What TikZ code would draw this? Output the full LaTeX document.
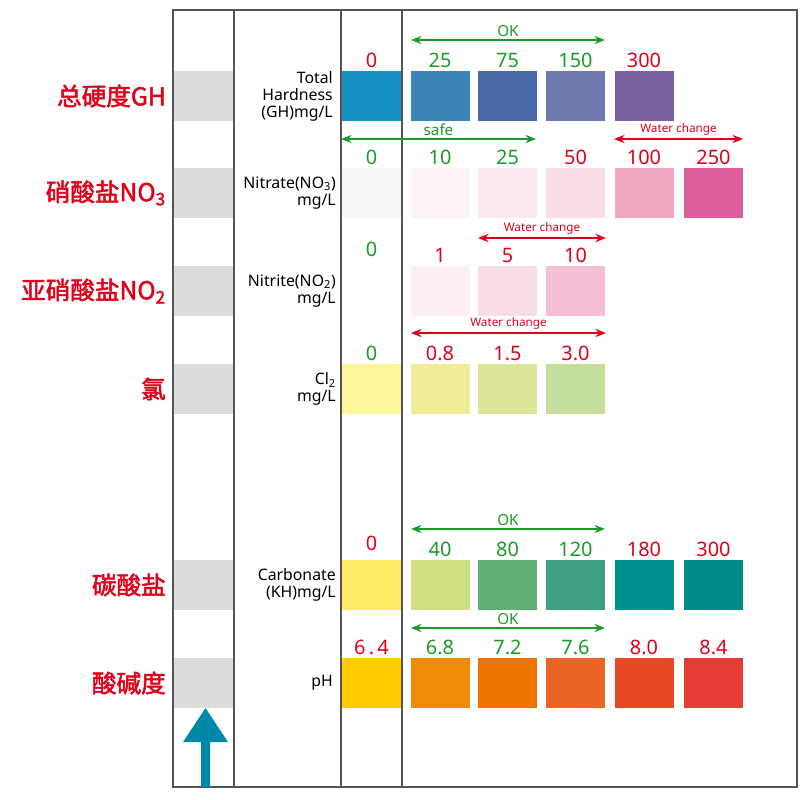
\documentclass[tikz,border=0pt]{standalone}
\usepackage{fontspec}
\setmainfont{Noto Sans}
\newfontfamily\cjk{Noto Sans CJK SC}[AutoFakeBold=2]
\usetikzlibrary{arrows.meta,positioning}
\definecolor{okgreen}{HTML}{1A9A2A}
\definecolor{warnred}{HTML}{E0001A}
\definecolor{framegray}{HTML}{555555}
\definecolor{bandgray}{HTML}{DCDCDC}
\definecolor{arrowteal}{HTML}{0089A6}
\tikzset{
  swatch/.style={rectangle, inner sep=0, minimum width=1.77cm, minimum height=1.5cm},
  hex/.code={\definecolor{swcol}{HTML}{#1}\pgfkeysalso{fill=swcol}},
  band/.style={fill=bandgray, draw=none, rectangle, inner sep=0, minimum width=1.8cm, minimum height=1.5cm},
  val/.style={anchor=base, inner sep=0, font=\bfseries\fontsize{17}{17}\selectfont},
  cnlabel/.style={anchor=east, inner sep=0, text=warnred, font=\cjk\bfseries\fontsize{21}{21}\selectfont},
  enlabel/.style={anchor=east, inner sep=0, align=right, font=\bfseries\fontsize{13.5}{14.5}\selectfont},
  limitarrow/.style={line width=2pt, {Stealth[length=9pt,width=7pt]}-{Stealth[length=9pt,width=7pt]}},
  rangetext/.style={anchor=base, inner sep=0},
}
\begin{document}
\begin{tikzpicture}[x=0.03cm, y=-0.03cm]
\useasboundingbox (0,0) rectangle (800,800);
% gray bands and row labels
\foreach \r/\top/\cn in {gh/71/总硬度GH, no3/168/硝酸盐NO\textsubscript{3}, no2/266/亚硝酸盐NO\textsubscript{2}, cl/364/氯, kh/560/碳酸盐, ph/658/酸碱度}{
  \node[band] (band-\r) at (203.5,\top+25) {};
  \node[cnlabel] (cn-\r) at (166,\top+25) {\cn};
}
\node[enlabel] (en-gh) at (333,96) {Total\\Hardness\\(GH)mg/L};
\node[enlabel] (en-no3) at (336,193) {Nitrate(NO\textsubscript{3})\\mg/L};
\node[enlabel] (en-no2) at (336,291) {Nitrite(NO\textsubscript{2})\\mg/L};
\node[enlabel] (en-cl) at (336,389) {Cl\textsubscript{2}\\mg/L};
\node[enlabel] (en-kh) at (336,585) {Carbonate\\(KH)mg/L};
\node[enlabel] (en-ph) at (333,683) {pH};
% total hardness
\foreach \i/\x/\c/\v/\t in {0/371.5/1590C4/0/warnred, 1/440/3A84B8/25/okgreen, 2/507.5/4A69A6/75/okgreen, 3/575.5/6F78AC/150/okgreen, 4/644/7A62A0/300/warnred}{
  \node[swatch, hex=\c] (gh\i) at (\x,96) {};
  \node[val, text=\t] (ghv\i) at (\x,67) {\v};
}
% nitrate
\foreach \i/\x/\c/\v/\t in {0/371.5/F7F7F7/0/okgreen, 1/440/FDF3F5/10/okgreen, 2/507.5/FCE9EF/25/okgreen, 3/575.5/FADDE6/50/warnred, 4/644/F0A7C2/100/warnred, 5/713.5/DC5E9C/250/warnred}{
  \node[swatch, hex=\c] (no3\i) at (\x,193) {};
  \node[val, text=\t] (no3v\i) at (\x,164) {\v};
}
% nitrite
\node[val, text=okgreen] (no2v0) at (371.5,256) {0};
\foreach \i/\x/\c/\v in {1/440/FCEEF3/1, 2/507.5/F9DDE6/5, 3/575.5/F4BFD6/10}{
  \node[swatch, hex=\c] (no2\i) at (\x,291) {};
  \node[val, text=warnred] (no2v\i) at (\x,262) {\v};
}
% chlorine
\foreach \i/\x/\c/\v/\t in {0/371.5/FFF59A/0/okgreen, 1/440/F0EB98/0.8/warnred, 2/507.5/DDE598/1.5/warnred, 3/575.5/C4DF9C/3.0/warnred}{
  \node[swatch, hex=\c] (cl\i) at (\x,389) {};
  \node[val, text=\t] (clv\i) at (\x,360) {\v};
}
% carbonate
\foreach \i/\x/\c/\v/\t in {1/440/D0DF80/40/okgreen, 2/507.5/61AF74/80/okgreen, 3/575.5/3F9F84/120/okgreen, 4/644/009090/180/warnred, 5/713.5/008A88/300/warnred}{
  \node[swatch, hex=\c] (kh\i) at (\x,585) {};
  \node[val, text=\t] (khv\i) at (\x,556) {\v};
}
\node[swatch, hex=FFE966] (kh0) at (371.5,585) {};
\node[val, text=warnred] (khv0) at (371.5,550) {0};
% ph
\foreach \i/\x/\c/\v/\t in {0/371.5/FFCC00/6\,.\,4/warnred, 1/440/F08C07/6.8/okgreen, 2/507.5/EE7400/7.2/okgreen, 3/575.5/EA6426/7.6/okgreen, 4/644/E94824/8.0/warnred, 5/713.5/E53C35/8.4/warnred}{
  \node[swatch, hex=\c] (ph\i) at (\x,683) {};
  \node[val, text=\t] (phv\i) at (\x,654) {\v};
}
% frame
\draw[framegray, line width=1.7pt] (173,10) rectangle (797,787);
\foreach \x in {234,341,402}
  \draw[framegray, line width=1.5pt] (\x,10) -- (\x,787);
% ranges
\coordinate (okgh-a) at (411,40);   \coordinate (okgh-b) at (605,40);
\coordinate (safe-a) at (341,139);  \coordinate (safe-b) at (536,139);
\coordinate (wc1-a) at (614,139);   \coordinate (wc1-b) at (743,139);
\coordinate (wc2-a) at (478,238);   \coordinate (wc2-b) at (606,238);
\coordinate (wc3-a) at (411,333);   \coordinate (wc3-b) at (606,333);
\coordinate (okkh-a) at (411,529);  \coordinate (okkh-b) at (605,529);
\coordinate (okph-a) at (411,628);  \coordinate (okph-b) at (605,628);
\draw[limitarrow, okgreen] (okgh-a) -- (okgh-b) node[rangetext, midway, above=2pt, font=\bfseries\fontsize{13}{13}\selectfont] {OK};
\draw[limitarrow, okgreen] (safe-a) -- (safe-b) node[rangetext, midway, above=2pt, font=\bfseries\fontsize{13}{13}\selectfont] {safe};
\draw[limitarrow, warnred] (wc1-a) -- (wc1-b) node[rangetext, midway, above=2pt, font=\fontsize{10}{10}\selectfont] {Water change};
\draw[limitarrow, warnred] (wc2-a) -- (wc2-b) node[rangetext, midway, above=2pt, font=\fontsize{10}{10}\selectfont] {Water change};
\draw[limitarrow, warnred] (wc3-a) -- (wc3-b) node[rangetext, midway, above=2pt, font=\fontsize{10}{10}\selectfont] {Water change};
\draw[limitarrow, okgreen] (okkh-a) -- (okkh-b) node[rangetext, midway, above=2pt, font=\bfseries\fontsize{13}{13}\selectfont] {OK};
\draw[limitarrow, okgreen] (okph-a) -- (okph-b) node[rangetext, midway, above=2pt, font=\bfseries\fontsize{13}{13}\selectfont] {OK};
% upward arrow
\fill[arrowteal] (201,787) -- (201,742) -- (183,742) -- (205.5,708) -- (228,742) -- (210,742) -- (210,787) -- cycle;
\end{tikzpicture}
\end{document}
